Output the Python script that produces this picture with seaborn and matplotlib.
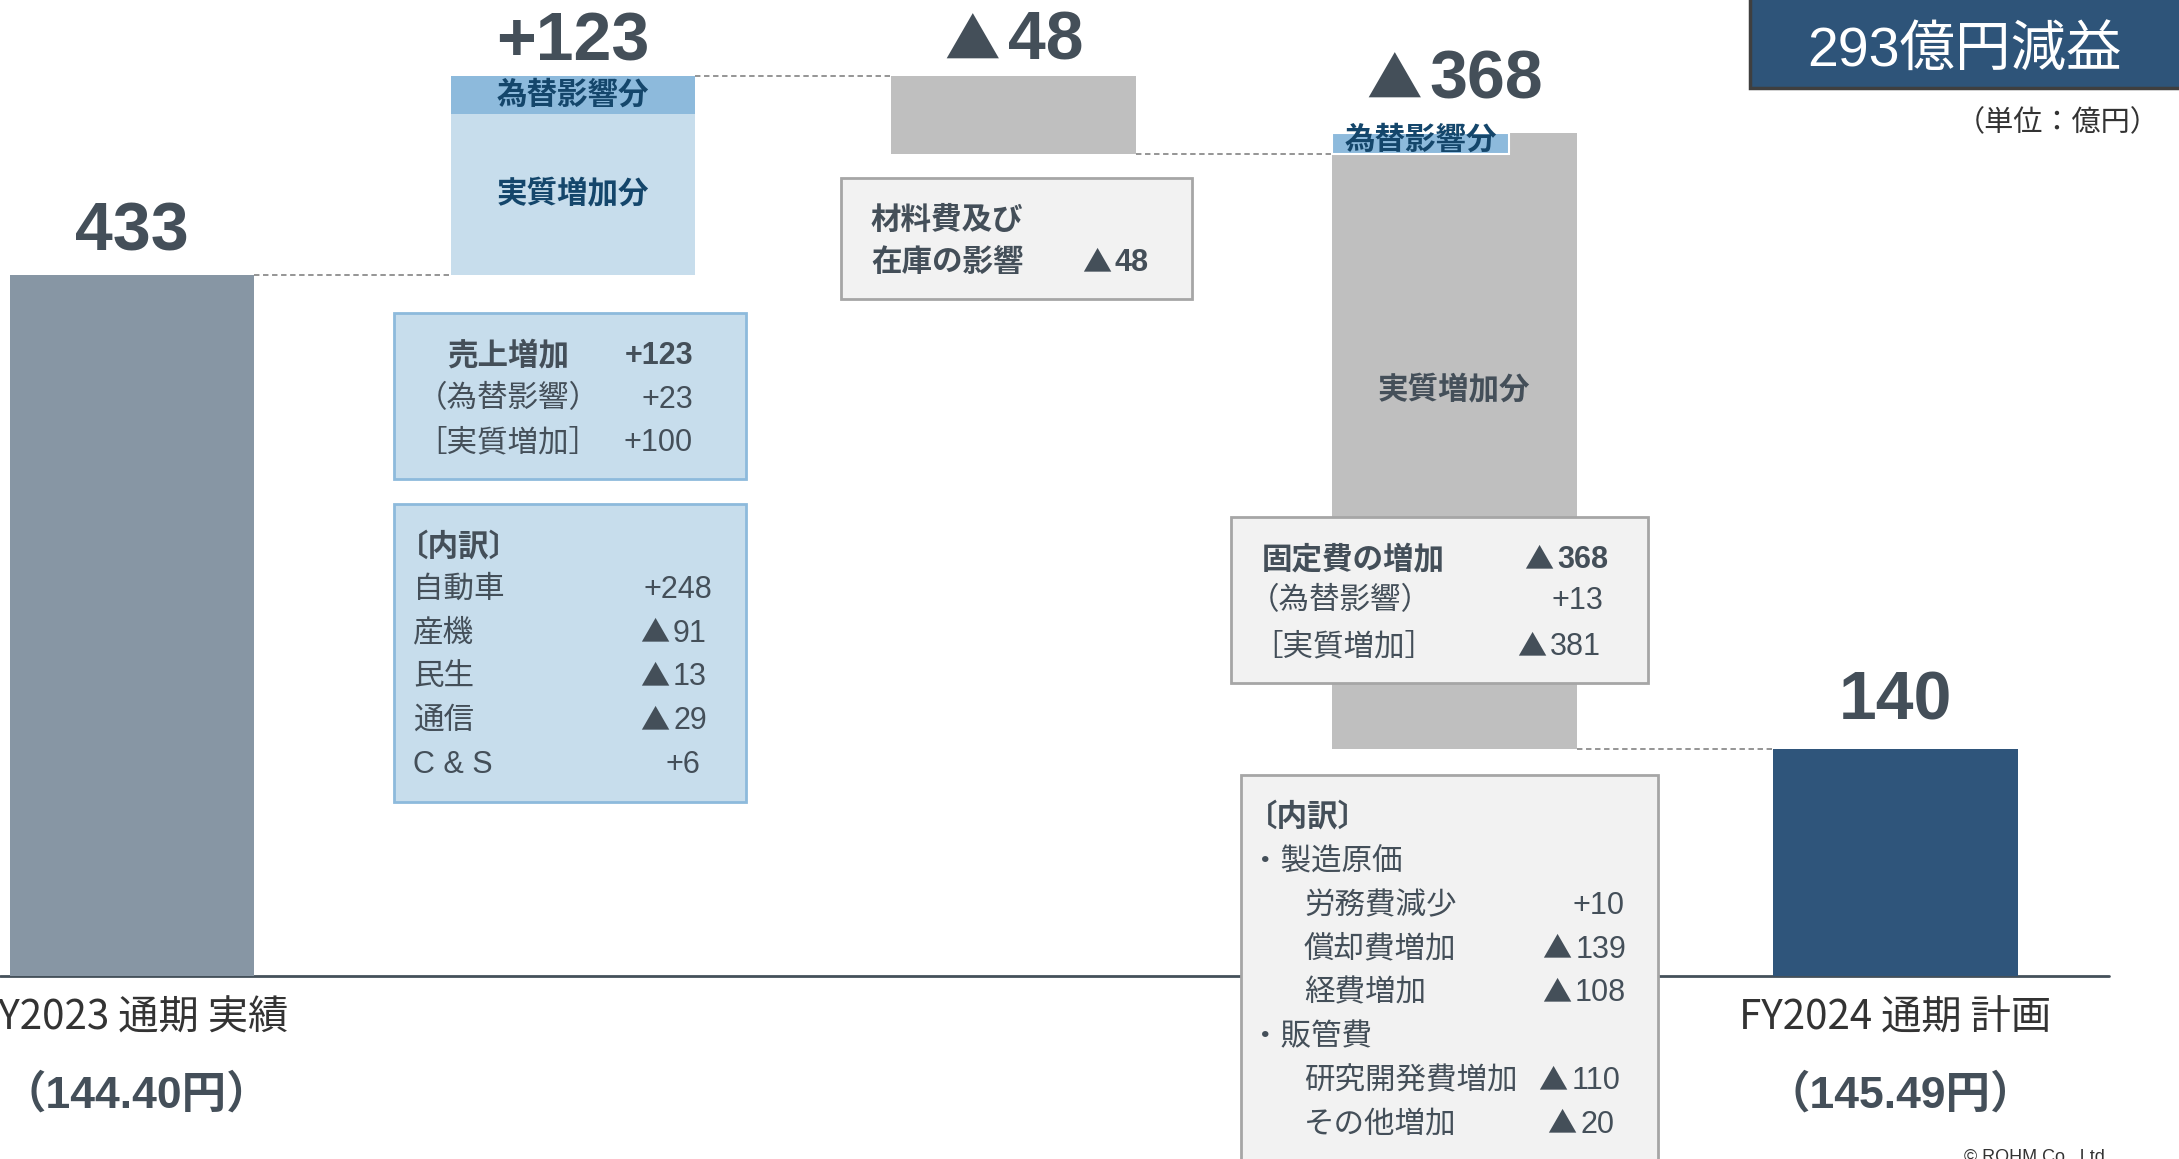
import matplotlib
matplotlib.use('Agg')
import pandas as pd
import matplotlib.pyplot as plt
import matplotlib.transforms as mtransforms
from matplotlib.patches import Rectangle
import seaborn as sns


# Data section (units: 100 million yen)
categories = ['FY2023 通期 実績', '売上増加', '材料費及び在庫の影響', '固定費の増加', 'FY2024 通期 計画']
start_profit = 433
end_profit = 140
sales_fx = 23
sales_real = 100
material_inv = -48
fixed_fx = 13
fixed_real = -381
value_labels = ['433', '+123', '▲48', '▲368', '140']
rate_labels = ['（144.40円）', '（145.49円）']

sales_rows = [('売上増加', '+123'), ('（為替影響）', '+23'), ('［実質増加］', '+100')]
sales_breakdown = [('自動車', '+248'), ('産機', '▲91'), ('民生', '▲13'), ('通信', '▲29'), ('C & S', '+6')]
fixed_rows = [('固定費の増加', '▲368'), ('（為替影響）', '+13'), ('［実質増加］', '▲381')]
fixed_breakdown = [('・製造原価', ''), ('労務費減少', '+10'), ('償却費増加', '▲139'), ('経費増加', '▲108'),
                   ('・販管費', ''), ('研究開発費増加', '▲110'), ('その他増加', '▲20')]

# running levels of the waterfall
lvl_sales = start_profit + sales_fx + sales_real
lvl_material = lvl_sales + material_inv
fixed_top = lvl_material + fixed_fx
lvl_fixed = fixed_top + fixed_real

# Style section
sns.set_theme(style='white')
LAT = ['Liberation Sans', 'Noto Sans CJK JP', 'DejaVu Sans']
CJK = ['Noto Sans CJK JP', 'DejaVu Sans']
plt.rcParams['font.family'] = LAT
DARK = '#444f59'
BLUE_TXT = '#14466b'
LIGHT_BLUE = '#c7ddec'
MID_BLUE = '#8dbadc'
GREY = '#bfbfbf'
W = 0.555

fig = plt.figure(figsize=(21.79, 11.59), dpi=100)
ax = fig.add_axes([0, 0, 1, 1])
# pixel coordinates of the slide (origin top-left) for the annotation boxes
px = mtransforms.Affine2D().scale(1 / 2179, -1 / 1159).translate(0, 1) + fig.transFigure
renderer = fig.canvas.get_renderer()

# End bars through seaborn
ends = pd.DataFrame({'cat': [categories[0], categories[-1]], 'value': [start_profit, end_profit]})
sns.barplot(data=ends, x='cat', y='value', hue='cat', order=categories,
            palette={categories[0]: '#8796a4', categories[-1]: '#2f557b'},
            width=W, saturation=1, legend=False, ax=ax, zorder=2, linewidth=0)

# Floating bars
ax.bar(1, sales_real, bottom=start_profit, width=W, color=LIGHT_BLUE, linewidth=0, zorder=2)
ax.bar(1, sales_fx, bottom=start_profit + sales_real, width=W, color=MID_BLUE, linewidth=0, zorder=2)
ax.bar(2, material_inv, bottom=lvl_sales, width=W, color=GREY, linewidth=0, zorder=2)
ax.bar(3, fixed_real, bottom=fixed_top, width=W, color=GREY, linewidth=0, zorder=2)
ax.add_patch(Rectangle((3 - W / 2, lvl_material), 0.40, fixed_fx, facecolor=MID_BLUE,
                       edgecolor='white', linewidth=1.5, zorder=3))

# Connectors
levels = [start_profit, lvl_sales, lvl_material, lvl_fixed]
for i, lv in enumerate(levels):
    ax.plot([i + W / 2, i + 1 - W / 2], [lv, lv], color='#8c8c8c', linewidth=1.3,
            linestyle=(0, (3, 2)), zorder=1)

ax.axhline(0, xmin=0, xmax=0.968, color='#44505a', linewidth=2, zorder=1.5)

ax.set_xlim(-0.2994, 4.643)
ax.set_ylim(-113.4, 603.2)
ax.axis('off')


def put(x, y, s, ha='left', bold=False, size=22, color=DARK, va='baseline', fam=LAT):
    return ax.text(x, y, s, transform=px, ha=ha, va=va, fontsize=size,
                   fontweight='bold' if bold else 'normal', color=color, family=fam, zorder=6)


def put_val(x, y, s, ha='right', bold=False, size=22, tri=21, gap=4):
    # '▲' is drawn from the CJK font so that it is as tall as the digits
    if not s.startswith('▲'):
        return put(x, y, s, ha=ha, bold=bold, size=size)
    t_tri = put(0, y, '▲', size=tri, fam=CJK)
    t_num = put(0, y, s[1:], bold=bold, size=size)
    w_tri = t_tri.get_window_extent(renderer).width
    w_num = t_num.get_window_extent(renderer).width
    total = w_tri + gap + w_num
    left = x - total if ha == 'right' else x - total / 2
    t_tri.set_x(left)
    t_num.set_x(left + w_tri + gap)


def box(x0, y0, x1, y1, face, edge):
    ax.add_patch(Rectangle((x0, y0), x1 - x0, y1 - y0, transform=px, facecolor=face,
                           edgecolor=edge, linewidth=2, zorder=5))


# Value labels above the bars
tops = [start_profit, lvl_sales, lvl_sales, fixed_top, end_profit]
pads = [25, 16, 17, 34, 30]
for i, (lab, top, pad) in enumerate(zip(value_labels, tops, pads)):
    bx, by = ax.transData.transform((i, top))
    put_val(bx, 1159 - by - pad, lab, ha='center', bold=True, size=49, tri=40, gap=8)

# Labels inside bars
ax.text(1, start_profit + sales_real + sales_fx / 2, '為替影響分', ha='center', va='center',
        fontsize=22, fontweight='bold', color=BLUE_TXT, family=CJK, zorder=4)
ax.text(1, start_profit + sales_real / 2, '実質増加分', ha='center', va='center',
        fontsize=22, fontweight='bold', color=BLUE_TXT, family=CJK, zorder=4)
ax.text(3 - W / 2 + 0.20, lvl_material + fixed_fx * 0.7, '為替影響分', ha='center', va='center',
        fontsize=22, fontweight='bold', color=BLUE_TXT, family=CJK, zorder=4)
put(1454, 390, '実質増加分', ha='center', bold=True, va='center', fam=CJK)

# material box
box(841, 178, 1192, 299, '#f2f2f2', '#a6a6a6')
put(871, 229, '材料費及び', bold=True)
put(871, 271, '在庫の影響', bold=True)
put_val(1149, 271, '▲48', bold=True)

# sales boxes
box(394, 313, 746, 479, LIGHT_BLUE, MID_BLUE)
for k, (lab, val) in enumerate(sales_rows):
    put(508, 364 + 43.5 * k, lab, ha='center', bold=(k == 0))
    put_val(693, 364 + 43.5 * k, val, bold=(k == 0))

box(394, 504, 746, 802, LIGHT_BLUE, MID_BLUE)
put(398, 556, '〔内訳〕', bold=True)
val_right = [712, 707, 707, 707, 700]
for k, (lab, val) in enumerate(sales_breakdown):
    put(413, 598 + 43.7 * k, lab)
    put_val(val_right[k], 598 + 43.7 * k, val)

# fixed cost boxes
box(1231, 517, 1648, 683, '#f2f2f2', '#a6a6a6')
fixed_left = [1262, 1249, 1252]
fixed_right = [1608, 1603, 1601]
fixed_y = [568, 609, 655]
for k, (lab, val) in enumerate(fixed_rows):
    put(fixed_left[k], fixed_y[k], lab, bold=(k == 0))
    put_val(fixed_right[k], fixed_y[k], val, bold=(k == 0))

box(1241, 775, 1658, 1175, '#f2f2f2', '#a6a6a6')
put(1247, 826, '〔内訳〕', bold=True)
brk_right = {'+10': 1624, '▲139': 1626, '▲108': 1626, '▲110': 1620, '▲20': 1614}
for k, (lab, val) in enumerate(fixed_breakdown):
    y = 870 + 43.8 * k
    if lab.startswith('・'):
        put(1250, y, lab)
    else:
        put(1304, y, lab)
        put_val(brk_right[val], y, val)

# Category labels and exchange rates
for i, (cat, rate) in zip([0, 4], [(categories[0], rate_labels[0]), (categories[4], rate_labels[1])]):
    ax.text(i, -26, cat, ha='center', va='center', fontsize=29, color='#333333', family=CJK)
    ax.text(i + 0.01, -74, rate, ha='center', va='center', fontsize=32, fontweight='bold',
            color=DARK, family=LAT)

# Header
ax.add_patch(Rectangle((1750, -5), 440, 93, transform=px, facecolor='#2e5479',
                       edgecolor='#3f3f3f', linewidth=2.5, zorder=5))
put(1964, 52, '293億円減益', ha='center', size=40, color='white', va='center')
put(2160, 123, '（単位：億円）', ha='right', size=21, color='#333333', va='center')
put(1964, 1149, '© ROHM Co., Ltd.', size=13, color='#333333', va='top')

plt.savefig('out.png', dpi=100)
